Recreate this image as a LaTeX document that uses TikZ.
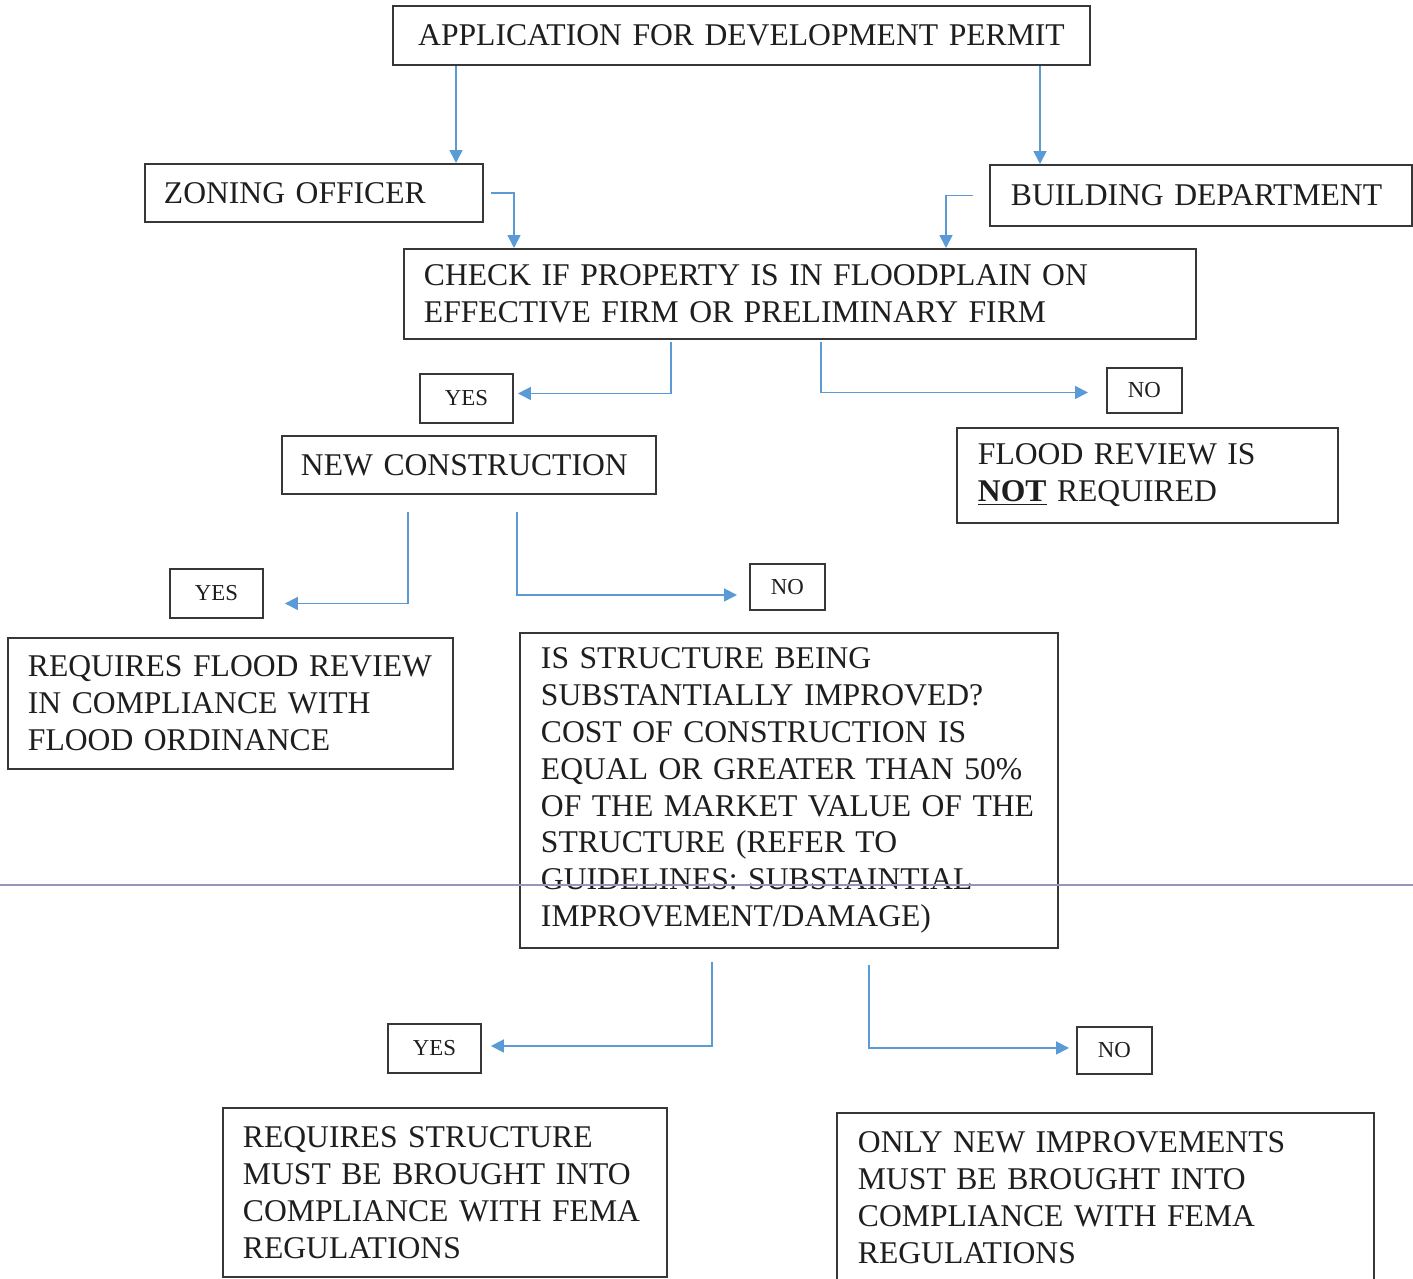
\documentclass[tikz,border=0pt]{standalone}
\usepackage{fontspec}
\setmainfont{Liberation Serif}
\usetikzlibrary{arrows.meta,calc}
\newlength\pxu
\setlength\pxu{0.02cm}
\newcommand\mainsz{\fontsize{18}{21}\selectfont}
\newcommand\lblsz{\fontsize{13}{15}\selectfont}
\definecolor{boxc}{RGB}{55,55,55}
\definecolor{txt}{RGB}{30,30,30}
\definecolor{arrc}{RGB}{91,155,213}
\definecolor{pagec}{RGB}{150,150,185}
\tikzset{
  box/.style={draw=boxc, line width=1.1pt, anchor=north west, inner ysep=0pt,
    font=\mainsz, text=txt, align=left},
  lbl/.style={draw=boxc, line width=1.1pt, anchor=north west, inner sep=0pt,
    font=\lblsz, text=txt, align=center},
  conn/.style={draw=arrc, line width=1pt, -{Triangle[length=7.4pt,width=7.4pt]}},
  pageline/.style={draw=pagec, line width=1.4pt}
}
\begin{document}
\begin{tikzpicture}[x=0.02cm,y=-0.02cm]
\useasboundingbox (0,0) rectangle (1413,1278);

% boxes
\node[box, align=center, minimum width=697\pxu, minimum height=59\pxu, inner xsep=10\pxu, text width=677\pxu] (app) at (392,5) {APPLICATION FOR DEVELOPMENT PERMIT};
\node[box, minimum width=338\pxu, minimum height=58\pxu, inner xsep=19\pxu, text width=300\pxu] (zon) at (144,163) {\mbox{ZONING OFFICER}};
\node[box, minimum width=422\pxu, minimum height=61\pxu, inner xsep=21\pxu, text width=380\pxu] (bld) at (989,164) {\mbox{BUILDING DEPARTMENT}};
\node[box, minimum width=792\pxu, minimum height=90\pxu, inner xsep=20\pxu, text width=752\pxu] (chk) at (403,248) {\mbox{CHECK IF PROPERTY IS IN FLOODPLAIN ON}\\\mbox{EFFECTIVE FIRM OR PRELIMINARY FIRM}};
\node[lbl, minimum width=93\pxu, minimum height=49\pxu] (yes1) at (419,373) {YES};
\node[lbl, minimum width=75\pxu, minimum height=45\pxu] (no1) at (1106,367) {NO};
\node[box, minimum width=374\pxu, minimum height=58\pxu, inner xsep=19\pxu, text width=336\pxu] (ncon) at (281,435) {\mbox{NEW CONSTRUCTION}};
\node[box, minimum width=381\pxu, minimum height=95\pxu, inner xsep=21\pxu, text width=339\pxu] (nreq) at (956,427) {\mbox{FLOOD REVIEW IS}\\\mbox{\textbf{\underline{NOT}} REQUIRED}};
\node[lbl, minimum width=93\pxu, minimum height=49\pxu] (yes2) at (169,568) {YES};
\node[lbl, minimum width=75\pxu, minimum height=46\pxu] (no2) at (749,563) {NO};
\node[box, minimum width=445\pxu, minimum height=131\pxu, inner xsep=20\pxu, text width=405\pxu] (rfr) at (7,637) {\mbox{REQUIRES FLOOD REVIEW}\\\mbox{IN COMPLIANCE WITH}\\\mbox{FLOOD ORDINANCE}};
\node[box, minimum width=538\pxu, minimum height=315\pxu, inner xsep=21\pxu, text width=496\pxu] (isq) at (519,632) {\mbox{IS STRUCTURE BEING}\\\mbox{SUBSTANTIALLY IMPROVED?}\\\mbox{COST OF CONSTRUCTION IS}\\\mbox{EQUAL OR GREATER THAN 50\%}\\\mbox{OF THE MARKET VALUE OF THE}\\\mbox{STRUCTURE (REFER TO}\\\mbox{GUIDELINES: SUBSTAINTIAL}\\\mbox{IMPROVEMENT/DAMAGE)}};
\node[lbl, minimum width=93\pxu, minimum height=49\pxu] (yes3) at (387,1023) {YES};
\node[lbl, minimum width=75\pxu, minimum height=47\pxu] (no3) at (1076,1026) {NO};
\node[box, minimum width=444\pxu, minimum height=169\pxu, inner xsep=20\pxu, text width=404\pxu] (rsf) at (222,1107) {\mbox{REQUIRES STRUCTURE}\\\mbox{MUST BE BROUGHT INTO}\\\mbox{COMPLIANCE WITH FEMA}\\\mbox{REGULATIONS}};
\node[box, minimum width=537\pxu, minimum height=169\pxu, inner xsep=21\pxu, text width=495\pxu] (onl) at (836,1112) {\mbox{ONLY NEW IMPROVEMENTS}\\\mbox{MUST BE BROUGHT INTO}\\\mbox{COMPLIANCE WITH FEMA}\\\mbox{REGULATIONS}};

% connectors
\draw[conn] ($(app.south west)+(64,0)$) -- ($(zon.north west)+(312,0)$);
\draw[conn] ($(app.south west)+(648,0)$) -- ($(bld.north west)+(51,0)$);
\draw[conn] ($(zon.east)+(7,0)$) -| ($(chk.north west)+(111,0)$);
\draw[conn] ($(bld.west)+(-16,0)$) -| ($(chk.north west)+(543,0)$);
\draw[conn] ($(chk.south west)+(268,2)$) |- ($(yes1.east)+(4,-5)$);
\draw[conn] ($(chk.south west)+(418,2)$) |- ($(no1.west)+(-18,2)$);
\draw[conn] ($(ncon.south west)+(127,17)$) |- ($(yes2.east)+(21,10)$);
\draw[conn] ($(ncon.south west)+(236,17)$) |- ($(no2.west)+(-12,8)$);
\draw[conn] ($(isq.south west)+(193,13)$) |- ($(yes3.east)+(9,-2.5)$);
\draw[conn] ($(isq.south west)+(350,16)$) |- ($(no3.west)+(-7,-2.5)$);

% page break line
\draw[pageline] (0,885) -- (1413,885);
\end{tikzpicture}
\end{document}
